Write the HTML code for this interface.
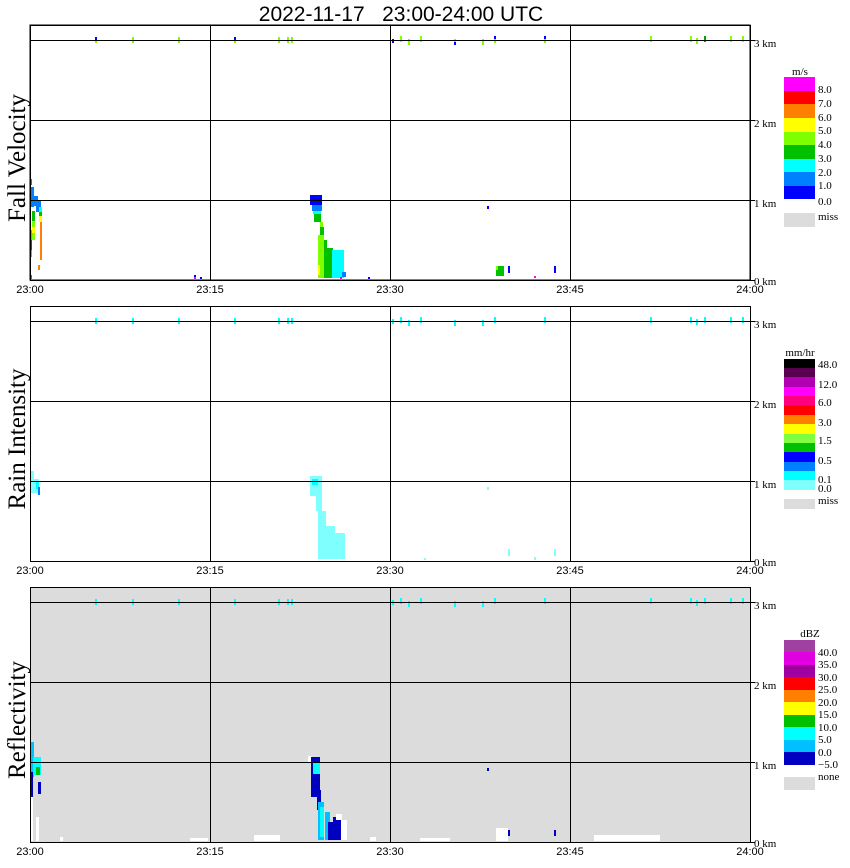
<!DOCTYPE html>
<html><head><meta charset="utf-8"><style>
body{margin:0;background:#fff;}
svg{display:block;}
.t{font-family:"Liberation Sans",sans-serif;font-size:11px;}
.s{font-family:"Liberation Serif",serif;font-size:11px;}
</style></head><body>
<svg width="850" height="868" viewBox="0 0 850 868" xmlns="http://www.w3.org/2000/svg" shape-rendering="crispEdges">
<text x="401" y="21" text-anchor="middle" font-family="Liberation Sans,sans-serif" font-size="21">2022-11-17&#160;&#160;&#160;23:00-24:00&#160;UTC</text>

<!-- Panel 1 -->
<g>
<rect x="30" y="25" width="720" height="255" fill="#fff" stroke="#000"/>
<g>
<rect x="95" y="37" width="2" height="3" fill="#0000ff"/><rect x="95" y="40" width="2" height="3" fill="#80ff00"/>
<rect x="132" y="37" width="2" height="6" fill="#80ff00"/><rect x="178" y="37" width="2" height="6" fill="#80ff00"/>
<rect x="234" y="37" width="2" height="3" fill="#0000ff"/><rect x="234" y="40" width="2" height="3" fill="#80ff00"/>
<rect x="278" y="37" width="2" height="6" fill="#80ff00"/><rect x="287" y="37" width="2" height="6" fill="#80ff00"/><rect x="291" y="37" width="2" height="6" fill="#80ff00"/>
<rect x="392" y="39" width="2" height="4" fill="#0000ff"/><rect x="400" y="36" width="2" height="6" fill="#80ff00"/><rect x="408" y="39" width="2" height="6" fill="#80ff00"/><rect x="420" y="36" width="2" height="6" fill="#80ff00"/>
<rect x="454" y="39" width="2" height="3" fill="#80ff00"/><rect x="454" y="42" width="2" height="3" fill="#0000ff"/>
<rect x="482" y="39" width="2" height="6" fill="#80ff00"/><rect x="494" y="36" width="2" height="3" fill="#0000ff"/><rect x="494" y="39" width="2" height="4" fill="#80ff00"/>
<rect x="544" y="36" width="2" height="3" fill="#0000ff"/><rect x="544" y="39" width="2" height="4" fill="#80ff00"/>
<rect x="650" y="36" width="2" height="6" fill="#80ff00"/><rect x="690" y="36" width="2" height="6" fill="#80ff00"/><rect x="696" y="38" width="2" height="6" fill="#80ff00"/><rect x="704" y="36" width="2" height="6" fill="#00a000"/><rect x="730" y="36" width="2" height="6" fill="#80ff00"/><rect x="742" y="36" width="2" height="6" fill="#80ff00"/>
<rect x="30" y="179" width="2" height="6" fill="#0080ff"/>
<rect x="30" y="187" width="4" height="20" fill="#0080ff"/>
<rect x="33" y="196" width="5" height="10" fill="#0080ff"/>
<rect x="36" y="200" width="5" height="12" fill="#0080ff"/>
<rect x="39" y="207" width="3" height="6" fill="#00ffff"/>
<rect x="39" y="212" width="3" height="4" fill="#00c000"/>
<rect x="39" y="216" width="3" height="6" fill="#ffff00"/>
<rect x="40" y="222" width="2" height="38" fill="#ff8000"/>
<rect x="38" y="265" width="2" height="5" fill="#ff8000"/>
<rect x="32" y="211" width="3" height="10" fill="#00c000"/>
<rect x="32" y="221" width="3" height="6" fill="#80ff00"/>
<rect x="32" y="227" width="3" height="6" fill="#ffff00"/>
<rect x="32" y="233" width="3" height="7" fill="#80ff00"/>
<rect x="30" y="230" width="2" height="27" fill="#ff8000"/>
<rect x="30" y="240" width="2" height="10" fill="#ff0000"/>
<rect x="30" y="275" width="2" height="4" fill="#ff00ff"/>
<rect x="194" y="275" width="2" height="2" fill="#0000ff"/><rect x="194" y="277" width="2" height="2" fill="#ff00ff"/><rect x="200" y="277" width="2" height="2" fill="#0000ff"/>
<rect x="310" y="195" width="12" height="10" fill="#0000ff"/>
<rect x="312" y="205" width="10" height="6" fill="#0080ff"/>
<rect x="313" y="211" width="8" height="3" fill="#00ffff"/>
<rect x="314" y="214" width="7" height="8" fill="#00c000"/>
<rect x="320" y="222" width="3" height="5" fill="#80ff00"/>
<rect x="320" y="227" width="4" height="12" fill="#00c000"/>
<rect x="318" y="235" width="6" height="43" fill="#80ff00"/>
<rect x="318" y="265" width="2" height="10" fill="#ffff00"/>
<rect x="324" y="240" width="3" height="38" fill="#00c000"/>
<rect x="327" y="248" width="6" height="30" fill="#00c000"/>
<rect x="331" y="252" width="3" height="10" fill="#00c000"/>
<rect x="332" y="250" width="12" height="28" fill="#00ffff"/>
<rect x="340" y="262" width="4" height="16" fill="#00ffff"/>
<rect x="342" y="272" width="4" height="5" fill="#0080ff"/>
<rect x="340" y="277" width="2" height="2" fill="#ff00ff"/>
<rect x="368" y="277" width="2" height="2" fill="#0000ff"/>
<rect x="487" y="206" width="2" height="3" fill="#0000ff"/>
<rect x="496" y="266" width="8" height="10" fill="#00c000"/>
<rect x="496" y="266" width="2" height="4" fill="#80ff00"/>
<rect x="508" y="266" width="2" height="7" fill="#0000ff"/>
<rect x="534" y="276" width="2" height="2" fill="#ff00ff"/>
<rect x="554" y="266" width="2" height="7" fill="#0000ff"/>
</g>
<line x1="30" y1="40.5" x2="750" y2="40.5" stroke="#000"/>
<line x1="30" y1="120.5" x2="750" y2="120.5" stroke="#000"/>
<line x1="30" y1="200.5" x2="750" y2="200.5" stroke="#000"/>
<line x1="210.5" y1="25" x2="210.5" y2="280" stroke="#000"/>
<line x1="390.5" y1="25" x2="390.5" y2="280" stroke="#000"/>
<line x1="570.5" y1="25" x2="570.5" y2="280" stroke="#000"/>
<rect x="30.5" y="25.5" width="720" height="255" fill="none" stroke="#000"/>
<line x1="750" y1="40.5" x2="755" y2="40.5" stroke="#000"/><line x1="750" y1="120.5" x2="755" y2="120.5" stroke="#000"/><line x1="750" y1="200.5" x2="755" y2="200.5" stroke="#000"/><line x1="750" y1="280.5" x2="755" y2="280.5" stroke="#000"/>
<text class="s" x="754" y="47">3 km</text><text class="s" x="754" y="127">2 km</text><text class="s" x="754" y="207">1 km</text><text class="s" x="754" y="285">0 km</text>
<text class="t" x="30" y="293" text-anchor="middle">23:00</text><text class="t" x="210" y="293" text-anchor="middle">23:15</text><text class="t" x="390" y="293" text-anchor="middle">23:30</text><text class="t" x="570" y="293" text-anchor="middle">23:45</text><text class="t" x="750" y="293" text-anchor="middle">24:00</text>
<text transform="translate(25,158) rotate(-90)" text-anchor="middle" font-family="Liberation Serif,serif" font-size="25">Fall Velocity</text>
<text class="s" x="800" y="75" text-anchor="middle">m/s</text>
<rect x="784" y="77" width="31" height="14" fill="#ff00ff"/>
<rect x="784" y="91" width="31" height="13" fill="#ff0000"/>
<rect x="784" y="104" width="31" height="14" fill="#ff8000"/>
<rect x="784" y="118" width="31" height="14" fill="#ffff00"/>
<rect x="784" y="132" width="31" height="13" fill="#80ff00"/>
<rect x="784" y="145" width="31" height="14" fill="#00c000"/>
<rect x="784" y="159" width="31" height="13" fill="#00ffff"/>
<rect x="784" y="172" width="31" height="14" fill="#0080ff"/>
<rect x="784" y="186" width="31" height="13" fill="#0000ff"/>
<rect x="784" y="213" width="31" height="14" fill="#dcdcdc"/>
<text class="s" x="818" y="93">8.0</text><text class="s" x="818" y="107">7.0</text><text class="s" x="818" y="121">6.0</text><text class="s" x="818" y="134">5.0</text><text class="s" x="818" y="148">4.0</text><text class="s" x="818" y="162">3.0</text><text class="s" x="818" y="176">2.0</text><text class="s" x="818" y="189">1.0</text><text class="s" x="818" y="205">0.0</text><text class="s" x="818" y="220">miss</text>
</g>

<!-- Panel 2 -->
<g transform="translate(0,281)">
<rect x="30" y="25" width="720" height="255" fill="#fff"/>
<g fill="#00ffff">
<rect x="95" y="37" width="2" height="6"/><rect x="132" y="37" width="2" height="6"/><rect x="178" y="37" width="2" height="6"/>
<rect x="234" y="37" width="2" height="6"/><rect x="278" y="37" width="2" height="6"/><rect x="287" y="37" width="2" height="6"/><rect x="291" y="37" width="2" height="6"/>
<rect x="392" y="38" width="2" height="5"/><rect x="400" y="36" width="2" height="6"/><rect x="408" y="39" width="2" height="6"/><rect x="420" y="36" width="2" height="6"/><rect x="454" y="39" width="2" height="6"/><rect x="482" y="39" width="2" height="6"/><rect x="494" y="36" width="2" height="6"/><rect x="544" y="36" width="2" height="6"/>
<rect x="650" y="36" width="2" height="6"/><rect x="690" y="36" width="2" height="6"/><rect x="696" y="38" width="2" height="6"/><rect x="704" y="36" width="2" height="6"/><rect x="730" y="36" width="2" height="6"/><rect x="742" y="36" width="2" height="6"/>
</g>
<g fill="#80ffff">
<rect x="30" y="190" width="4" height="22"/><rect x="33" y="198" width="6" height="14"/>
<rect x="310" y="195" width="12" height="20"/><rect x="316" y="215" width="6" height="15"/>
<rect x="318" y="230" width="8" height="48"/><rect x="325" y="245" width="10" height="33"/><rect x="333" y="252" width="12" height="26"/>
<rect x="487" y="206" width="2" height="3"/><rect x="424" y="277" width="2" height="2"/><rect x="508" y="268" width="2" height="7"/><rect x="534" y="276" width="2" height="3"/><rect x="554" y="268" width="2" height="7"/>
</g>
<g fill="#00ffff"><rect x="36" y="200" width="3" height="8"/><rect x="312" y="198" width="6" height="6"/><rect x="38" y="206" width="2" height="8" fill="#0080ff"/></g>
<line x1="30" y1="40.5" x2="750" y2="40.5" stroke="#000"/>
<line x1="30" y1="120.5" x2="750" y2="120.5" stroke="#000"/>
<line x1="30" y1="200.5" x2="750" y2="200.5" stroke="#000"/>
<line x1="210.5" y1="25" x2="210.5" y2="280" stroke="#000"/>
<line x1="390.5" y1="25" x2="390.5" y2="280" stroke="#000"/>
<line x1="570.5" y1="25" x2="570.5" y2="280" stroke="#000"/>
<rect x="30.5" y="25.5" width="720" height="255" fill="none" stroke="#000"/>
<line x1="750" y1="40.5" x2="755" y2="40.5" stroke="#000"/><line x1="750" y1="120.5" x2="755" y2="120.5" stroke="#000"/><line x1="750" y1="200.5" x2="755" y2="200.5" stroke="#000"/><line x1="750" y1="280.5" x2="755" y2="280.5" stroke="#000"/>
<text class="s" x="754" y="47">3 km</text><text class="s" x="754" y="127">2 km</text><text class="s" x="754" y="207">1 km</text><text class="s" x="754" y="285">0 km</text>
<text class="t" x="30" y="293" text-anchor="middle">23:00</text><text class="t" x="210" y="293" text-anchor="middle">23:15</text><text class="t" x="390" y="293" text-anchor="middle">23:30</text><text class="t" x="570" y="293" text-anchor="middle">23:45</text><text class="t" x="750" y="293" text-anchor="middle">24:00</text>
<text transform="translate(25,158) rotate(-90)" text-anchor="middle" font-family="Liberation Serif,serif" font-size="25">Rain Intensity</text>
</g>
<text class="s" x="800" y="356" text-anchor="middle">mm/hr</text>
<rect x="784" y="359" width="31" height="10" fill="#000000"/>
<rect x="784" y="368" width="31" height="10" fill="#5a0050"/>
<rect x="784" y="377" width="31" height="10" fill="#b000b0"/>
<rect x="784" y="387" width="31" height="10" fill="#ff00ff"/>
<rect x="784" y="396" width="31" height="10" fill="#ff0080"/>
<rect x="784" y="405" width="31" height="10" fill="#ff0000"/>
<rect x="784" y="415" width="31" height="10" fill="#ff8000"/>
<rect x="784" y="424" width="31" height="10" fill="#ffff00"/>
<rect x="784" y="434" width="31" height="10" fill="#80ff40"/>
<rect x="784" y="443" width="31" height="10" fill="#00c000"/>
<rect x="784" y="452" width="31" height="10" fill="#0000ff"/>
<rect x="784" y="462" width="31" height="10" fill="#0080ff"/>
<rect x="784" y="471" width="31" height="10" fill="#00ffff"/>
<rect x="784" y="480" width="31" height="10" fill="#80ffff"/>
<rect x="784" y="499" width="31" height="10" fill="#dcdcdc"/>
<text class="s" x="818" y="368">48.0</text><text class="s" x="818" y="388">12.0</text><text class="s" x="818" y="406">6.0</text><text class="s" x="818" y="426">3.0</text><text class="s" x="818" y="444">1.5</text><text class="s" x="818" y="464">0.5</text><text class="s" x="818" y="483">0.1</text><text class="s" x="818" y="492">0.0</text><text class="s" x="818" y="504">miss</text>

<!-- Panel 3 -->
<g transform="translate(0,562)">
<rect x="30" y="25" width="720" height="255" fill="#dcdcdc"/>
<g fill="#00ffff">
<rect x="95" y="37" width="2" height="6"/><rect x="132" y="37" width="2" height="6"/><rect x="178" y="37" width="2" height="6"/>
<rect x="234" y="37" width="2" height="6"/><rect x="278" y="37" width="2" height="6"/><rect x="287" y="37" width="2" height="6"/><rect x="291" y="37" width="2" height="6"/>
<rect x="392" y="38" width="2" height="5"/><rect x="400" y="36" width="2" height="6"/><rect x="408" y="39" width="2" height="6"/><rect x="420" y="36" width="2" height="6"/><rect x="454" y="39" width="2" height="6"/><rect x="482" y="39" width="2" height="6"/><rect x="494" y="36" width="2" height="6"/><rect x="544" y="36" width="2" height="6"/>
<rect x="650" y="36" width="2" height="6"/><rect x="690" y="36" width="2" height="6"/><rect x="696" y="38" width="2" height="6"/><rect x="704" y="36" width="2" height="6"/><rect x="730" y="36" width="2" height="6"/><rect x="742" y="36" width="2" height="6"/>
</g>
<rect x="30" y="180" width="4" height="35" fill="#00c0ff"/>
<rect x="33" y="195" width="8" height="18" fill="#00ffff"/>
<rect x="36" y="205" width="4" height="8" fill="#00c000"/>
<rect x="30" y="210" width="3" height="25" fill="#0000c0"/>
<rect x="38" y="220" width="3" height="12" fill="#0000c0"/>
<rect x="30" y="235" width="3" height="44" fill="#fff"/>
<rect x="36" y="255" width="3" height="24" fill="#fff"/>
<rect x="60" y="275" width="3" height="4" fill="#fff"/>
<rect x="190" y="276" width="18" height="3" fill="#fff"/>
<rect x="254" y="273" width="26" height="6" fill="#fff"/>
<rect x="308" y="194" width="4" height="6" fill="#fff"/>
<rect x="311" y="195" width="9" height="40" fill="#0000c0"/>
<rect x="313" y="200" width="7" height="12" fill="#00ffff"/>
<rect x="317" y="228" width="4" height="20" fill="#0000c0"/>
<rect x="318" y="240" width="6" height="38" fill="#00c0ff"/>
<rect x="320" y="245" width="4" height="30" fill="#00ffff"/>
<rect x="325" y="250" width="5" height="28" fill="#00c0ff"/>
<rect x="328" y="260" width="6" height="18" fill="#0000c0"/>
<rect x="333" y="255" width="8" height="23" fill="#0000c0"/>
<rect x="341" y="258" width="6" height="20" fill="#fff"/>
<rect x="336" y="252" width="6" height="6" fill="#fff"/>
<rect x="370" y="275" width="6" height="4" fill="#fff"/>
<rect x="420" y="276" width="30" height="3" fill="#fff"/>
<rect x="487" y="206" width="2" height="3" fill="#0000c0"/>
<rect x="496" y="266" width="12" height="13" fill="#fff"/>
<rect x="508" y="268" width="2" height="6" fill="#0000c0"/>
<rect x="554" y="268" width="2" height="6" fill="#0000c0"/>
<rect x="594" y="273" width="66" height="6" fill="#fff"/>
<line x1="30" y1="40.5" x2="750" y2="40.5" stroke="#000"/>
<line x1="30" y1="120.5" x2="750" y2="120.5" stroke="#000"/>
<line x1="30" y1="200.5" x2="750" y2="200.5" stroke="#000"/>
<line x1="210.5" y1="25" x2="210.5" y2="280" stroke="#000"/>
<line x1="390.5" y1="25" x2="390.5" y2="280" stroke="#000"/>
<line x1="570.5" y1="25" x2="570.5" y2="280" stroke="#000"/>
<rect x="30.5" y="25.5" width="720" height="255" fill="none" stroke="#000"/>
<line x1="750" y1="40.5" x2="755" y2="40.5" stroke="#000"/><line x1="750" y1="120.5" x2="755" y2="120.5" stroke="#000"/><line x1="750" y1="200.5" x2="755" y2="200.5" stroke="#000"/><line x1="750" y1="280.5" x2="755" y2="280.5" stroke="#000"/>
<text class="s" x="754" y="47">3 km</text><text class="s" x="754" y="127">2 km</text><text class="s" x="754" y="207">1 km</text><text class="s" x="754" y="285">0 km</text>
<text class="t" x="30" y="293" text-anchor="middle">23:00</text><text class="t" x="210" y="293" text-anchor="middle">23:15</text><text class="t" x="390" y="293" text-anchor="middle">23:30</text><text class="t" x="570" y="293" text-anchor="middle">23:45</text><text class="t" x="750" y="293" text-anchor="middle">24:00</text>
<text transform="translate(25,158) rotate(-90)" text-anchor="middle" font-family="Liberation Serif,serif" font-size="25">Reflectivity</text>
</g>
<text class="s" x="810" y="637" text-anchor="middle">dBZ</text>
<rect x="784" y="640" width="31" height="13" fill="#a040a0"/>
<rect x="784" y="652" width="31" height="13" fill="#e000e0"/>
<rect x="784" y="665" width="31" height="13" fill="#a000a0"/>
<rect x="784" y="677" width="31" height="13" fill="#ff0000"/>
<rect x="784" y="690" width="31" height="13" fill="#ff8000"/>
<rect x="784" y="702" width="31" height="13" fill="#ffff00"/>
<rect x="784" y="715" width="31" height="13" fill="#00c000"/>
<rect x="784" y="727" width="31" height="13" fill="#00ffff"/>
<rect x="784" y="740" width="31" height="13" fill="#00c0ff"/>
<rect x="784" y="752" width="31" height="13" fill="#0000c0"/>
<rect x="784" y="777" width="31" height="13" fill="#dcdcdc"/>
<text class="s" x="818" y="656">40.0</text><text class="s" x="818" y="668">35.0</text><text class="s" x="818" y="681">30.0</text><text class="s" x="818" y="693">25.0</text><text class="s" x="818" y="706">20.0</text><text class="s" x="818" y="718">15.0</text><text class="s" x="818" y="731">10.0</text><text class="s" x="818" y="743">5.0</text><text class="s" x="818" y="756">0.0</text><text class="s" x="818" y="768">−5.0</text><text class="s" x="818" y="780">none</text>
</svg>
</body></html>
